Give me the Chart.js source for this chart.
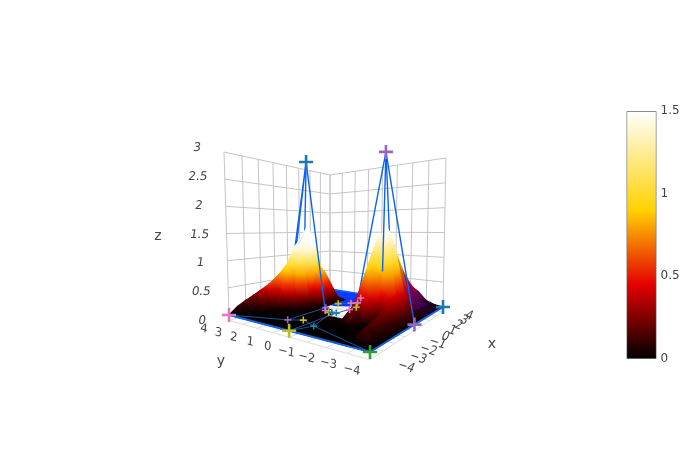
<!DOCTYPE html>
<html><head><meta charset="utf-8">
<script src="https://cdn.jsdelivr.net/npm/chart.js@4"></script>
<style>html,body{margin:0;padding:0;background:#fff}
#m{position:absolute;left:0;top:0}#c{position:absolute;left:620px;top:100px}</style></head>
<body><canvas id="m" width="700" height="450"></canvas><canvas id="c" width="80" height="270"></canvas>
<script>
const xTicks=[-4,-3,-2,-1,0,1,2,3,4];
const yTicks=[4,3,2,1,0,-1,-2,-3,-4];
const zTicks=[0,0.5,1,1.5,2,2.5,3];
const colorbarTicks=[0,0.5,1,1.5];
const xGrid=[-4,-3.5,-3,-2.5,-2,-1.5,-1,-0.5,0,0.5,1,1.5,2,2.5,3,3.5,4];
const yGrid=[-4,-3.5,-3,-2.5,-2,-1.5,-1,-0.5,0,0.5,1,1.5,2,2.5,3,3.5,4];
const _=null;
const zRows=[
[0,0,0,0,0,0,0,.01,.02,.02,.02,.02,.02,.02,.01,.01,0],
[0,.03,.06,.08,.1,.12,.14,.16,.18,.15,.12,.1,.1,.08,.06,.04,.02],
[0,.02,.1,.14,.18,.22,.28,.4,.45,.42,.4,.36,.3,.24,.18,.12,.08],
[0,0,0,0,.01,.02,.04,.55,1.6,1.45,1.15,.92,.72,.56,.42,.32,.24],
[0,0,0,.01,.02,.04,.5,1.15,1.4,1.28,1.05,.85,.67,.53,.4,.3,.22],
[0,0,.01,.01,.02,.25,.4,.68,.8,.78,.72,.62,.52,.42,.33,.26,.2],
[0,0,.01,.01,.02,.03,.06,.2,.3,.4,.42,.4,.35,.3,.25,.2,.15],
[0,0,.01,.01,.02,.03,_,_,_,_,_,_,_,_,_,_,_],
[0,0,.01,.01,.01,.02,.02,_,_,_,_,_,_,_,_,_,_],
[0,0,.01,.01,.02,.02,.03,.03,_,_,_,_,_,_,_,_,_],
[0,0,.01,.01,.02,.02,.03,.04,.05,.06,.06,.06,_,_,_,_,_],
[0,0,.01,.01,.02,.02,.03,.04,.05,.07,.08,.1,_,_,_,_,_],
[0,0,.01,.01,.02,.03,.05,.15,.5,.8,.6,.35,_,_,_,_,_],
[0,0,.01,.02,.03,.04,.35,1.3,1.62,1.4,.78,.4,_,_,_,_,_],
[0,0,.01,.02,.04,.35,.85,1.2,1.35,1.15,.68,.39,_,_,_,_,_],
[0,0,.03,.25,.42,.55,.68,.85,.95,.8,.55,.3,_,_,_,_,_],
[0,.12,.2,.27,.34,.42,.5,.58,.62,.5,.35,.2,_,_,_,_,_]];
const traceX=[-4,-4,-4,0,4,0,-.3,3,1.04,1.58,1.86,-.08,-.55,-.73,-.61,.38,.98,-2.9,-2.5,-2.9,-.6,0,4,4,3.2,4];
const traceY=[4,0,-4,-4,-4,2.55,-2.56,.86,1.13,.61,.35,1.14,.8,.43,.32,-.1,-.14,1.17,.56,-.42,.04,4,0,4,-.53,-.8];
const traceZ=[0,0,0,0,0,3,2.9,0,0,0,0,0,0,0,0,0,0,0,0,0,0,0,0,0,.64,0];
const traceColors=["#e377c2","#bcbd22","#2ca02c","#9467bd","#1f77b4","#1f77b4","#9467bd","#e377c2","#bcbd22","#e377c2","#e377c2","#9467bd","#e377c2","#bcbd22","#1f77b4","#e377c2","#bcbd22","#9467bd","#bcbd22","#1f84a8","#1f84a8","#1f77b4","#1f77b4","#1f77b4","#1f77b4","#1f77b4"];
const traceSizes=[7,7,7,7,7,7,7,3.5,3.5,3.5,3.5,3.5,3.5,3.5,3.5,3.5,3.5,3.5,3.5,3.5,3.5,0,0,0,0,0];
const edgeLinks=[0,1,2,3,4];
const backLinks=[5,21,_,5,17,_,5,18,_,6,16,_,6,25,_,4,23,_,23,21];
const frontLinks=[5,12,_,6,3,_,6,24];
const floorLinks=[0,17,18,19,2,_,1,19,14,_,1,20,15,16,_,12,13,14,_,17,11,12,_,8,9,10,7,_,20,13];
const bluePatchX=[4,4,1.3,0.5,0.5];
const bluePatchY=[4,-.5,-.3,.9,4];

const fF=[370,352],fR=[443,307],fB=[330,289],fL=[229,315];
const tF=[372,118],tR=[446,158],tB=[330,175],tL=[224,152];
function quad(p0,p1,p2,p3){const [x0,y0]=p0,[x1,y1]=p1,[x2,y2]=p2,[x3,y3]=p3;
 const dx1=x1-x2,dx2=x3-x2,dx3=x0-x1+x2-x3,dy1=y1-y2,dy2=y3-y2,dy3=y0-y1+y2-y3,den=dx1*dy2-dx2*dy1;
 const g=(dx3*dy2-dx2*dy3)/den,h=(dx1*dy3-dx3*dy1)/den;
 const a=x1-x0+g*x1,b=x3-x0+h*x3,d=y1-y0+g*y1,e=y3-y0+h*y3;
 return (u,v)=>{const w=g*u+h*v+1;return [(a*u+b*v+x0)/w,(d*u+e*v+y0)/w];};}
const floorMap=quad(fF,fR,fB,fL),topMap=quad(tF,tR,tB,tL);
function project(x,y,z){const u=(x+4)/8,v=(y+4)/8,t=z/3,a=floorMap(u,v),b=topMap(u,v);
 return {x:a[0]+(b[0]-a[0])*t,y:a[1]+(b[1]-a[1])*t};}
const gap={x:NaN,y:NaN};
const linkPts=l=>l.map(i=>i===null?gap:project(traceX[i],traceY[i],traceZ[i]));

const ZF=-0.1;
const gridPts=[],floorPts=[];
xTicks.forEach(x=>{gridPts.push(project(x,4,ZF),project(x,4,3),gap);floorPts.push(project(x,-4,ZF),project(x,4,ZF),gap);});
yTicks.forEach(y=>{gridPts.push(project(4,y,ZF),project(4,y,3),gap);floorPts.push(project(-4,y,ZF),project(4,y,ZF),gap);});
zTicks.forEach(z=>{if(z>0)gridPts.push(project(-4,4,z),project(4,4,z),project(4,-4,z),gap);});

const surfPts=[];
yGrid.forEach((y,j)=>xGrid.forEach((x,i)=>{const z=zRows[j][i];surfPts.push(z===null?gap:project(x,y,z));}));

const hot=[[0,[0,0,0]],[.3,[230,0,0]],[.6,[255,210,0]],[1,[255,255,255]]];
function hotAt(z){const f=Math.max(0,Math.min(1,z/1.5));for(let i=1;i<hot.length;i++){if(f<=hot[i][0]){const a=hot[i-1],b=hot[i],t=(f-a[0])/(b[0]-a[0]);
 return 'rgb('+a[1].map((c,k)=>Math.round(c+(b[1][k]-c)*t)).join(',')+')';}}return 'rgb(255,255,255)';}

const surfacePlugin={id:'surf',afterDatasetDraw(chart,args){
 const ds=chart.data.datasets[args.index],ctx=chart.ctx,el=args.meta.data;
 if(ds.role==='patch'){ctx.save();ctx.beginPath();el.forEach((p,i)=>i?ctx.lineTo(p.x,p.y):ctx.moveTo(p.x,p.y));ctx.closePath();ctx.fillStyle='#0a3cff';ctx.fill();ctx.restore();}
 if(ds.role!=='surface')return;
 const n=xGrid.length;ctx.save();
 for(let j=n-2;j>=0;j--)for(let i=n-2;i>=0;i--){
  const id=[j*n+i,j*n+i+1,(j+1)*n+i+1,(j+1)*n+i];
  const zs=[zRows[j][i],zRows[j][i+1],zRows[j+1][i+1],zRows[j+1][i]];
  if(zs.some(v=>v===null))continue;
  const ps=id.map(k=>el[k]);
  const ax=(xGrid[i]+xGrid[i+1])/2,ay=(yGrid[j]+yGrid[j+1])/2,az=(zs[0]+zs[1]+zs[2]+zs[3])/4,gain=ay>0?1.22:1;
  let lo=0,hi=0;zs.forEach((v,k)=>{if(v<zs[lo])lo=k;if(v>zs[hi])hi=k;});
  const g=ctx.createLinearGradient(ps[lo].x,ps[lo].y,ps[hi].x,ps[hi].y+.01);
  for(let s=0;s<=6;s++)g.addColorStop(s/6,hotAt(gain*(zs[lo]+(zs[hi]-zs[lo])*s/6)));
  ctx.beginPath();ps.forEach((p,k)=>k?ctx.lineTo(p.x,p.y):ctx.moveTo(p.x,p.y));ctx.closePath();
  ctx.fillStyle=g;ctx.strokeStyle=g;ctx.lineWidth=1.1;ctx.fill();ctx.stroke();
  let ov=null;
  if(ay<-2&&ax>.8){const k=Math.min(1,az/.3+.25);ov='rgba('+Math.round(75*k)+',0,'+Math.round(135*k)+','+Math.min(.95,(ax-.8)*.8).toFixed(2)+')';}
  else if(ay>0&&az>1.1){ov='rgba(170,205,255,.55)';}
  else if(ay>0&&ax<-1.5){ov='rgba(0,0,0,'+Math.min(.5,(-ax-1.5)*.25).toFixed(2)+')';}
  if(ov){ctx.fillStyle=ov;ctx.fill();}
 }
 ctx.restore();}};

function label(ctx,t,p,m,font){ctx.save();ctx.font=font||'12px "DejaVu Sans"';ctx.fillStyle='#444';ctx.textAlign='center';ctx.textBaseline='middle';
 ctx.translate(p.x,p.y);ctx.transform(m[0],m[1],m[2],m[3],0,0);ctx.fillText(t,0,0);ctx.restore();}
const minus=v=>String(v).replace('-','\u2212');
const labelPlugin={id:'labels',afterDraw(chart){const ctx=chart.ctx;
 zTicks.forEach(z=>{const p=project(-4,4,z);label(ctx,String(z),{x:p.x-27,y:p.y+6-10*z/3},[1,0,-.15,1]);});
 yTicks.forEach(y=>{const p=project(-4,y,0);const s=(y+4)/8;label(ctx,minus(y),{x:p.x-18-7*s,y:p.y+18-4*s},[.95,.22,-.1,1]);});
 xTicks.forEach(x=>{const p=project(x,-4,0);const s=(x+4)/8;label(ctx,minus(x),{x:p.x+36-10*s,y:p.y+15-6*s},[.9,.28,-.45,1]);});
 label(ctx,'x',{x:492,y:344},[1,0,0,1],'14px "DejaVu Sans"');
 label(ctx,'y',{x:221,y:361},[1,0,0,1],'14px "DejaVu Sans"');
 label(ctx,'z',{x:158,y:236},[1,0,0,1],'14px "DejaVu Sans"');
}};

new Chart(document.getElementById('m'),{type:'scatter',plugins:[surfacePlugin,labelPlugin],
 data:{datasets:[
  {label:'walls',order:8,data:gridPts,showLine:true,spanGaps:false,pointRadius:0,borderColor:'#c4c4c4',borderWidth:1},
  {label:'floor',order:7,data:floorPts,showLine:true,spanGaps:false,pointRadius:0,borderColor:'#dcdcdc',borderWidth:1},
  {label:'patch',role:'patch',order:6,data:bluePatchX.map((x,i)=>project(x,bluePatchY[i],0)),pointRadius:0},
  {label:'back',order:5,data:linkPts(backLinks),showLine:true,spanGaps:false,pointRadius:0,borderColor:'#0a64f0',borderWidth:1.4},
  {label:'surface',role:'surface',order:4,data:surfPts,pointRadius:0},
  {label:'floorLines',order:3,data:linkPts(floorLinks),showLine:true,spanGaps:false,pointRadius:0,borderColor:'#1d5fa8',borderWidth:.9},
  {label:'front',order:2,data:linkPts(frontLinks),showLine:true,spanGaps:false,pointRadius:0,borderColor:'#0a64f0',borderWidth:1.4},
  {label:'edge',order:2,data:linkPts(edgeLinks),showLine:true,pointRadius:0,borderColor:'#1464e6',borderWidth:2},
  {label:'markers',order:1,data:traceX.map((x,i)=>project(x,traceY[i],traceZ[i])),pointStyle:'cross',pointRadius:traceSizes,pointBorderColor:traceColors,pointBorderWidth:traceSizes.map(s=>s>5?2.6:1.6),pointBackgroundColor:traceColors}
 ]},
 options:{responsive:false,animation:false,events:[],layout:{padding:0,autoPadding:false},
  plugins:{legend:{display:false},tooltip:{enabled:false}},
  scales:{x:{type:'linear',min:0,max:700,display:false},y:{type:'linear',min:0,max:450,reverse:true,display:false}}}});

new Chart(document.getElementById('c'),{type:'bar',
 data:{labels:['z'],datasets:[{data:[[colorbarTicks[0],colorbarTicks[3]]],barPercentage:1,categoryPercentage:1,borderColor:'#444',borderWidth:1,borderSkipped:false,
  backgroundColor(c){const a=c.chart.chartArea;if(!a)return '#000';const g=c.chart.ctx.createLinearGradient(0,a.bottom,0,a.top);hot.forEach(h=>g.addColorStop(h[0],'rgb('+h[1].join(',')+')'));return g;}}]},
 options:{responsive:false,animation:false,events:[],layout:{padding:{left:6.5,top:10,bottom:10,right:0},autoPadding:false},
  plugins:{legend:{display:false},tooltip:{enabled:false}},
  scales:{x:{display:false},
   y:{position:'right',min:0,max:1.5,grid:{display:false,tickLength:0,drawTicks:false},border:{display:false},afterBuildTicks(ax){ax.ticks=colorbarTicks.map(v=>({value:v}));},afterFit(ax){ax.width=43.5;},
    ticks:{color:'#444',padding:4,autoSkip:false,font:{family:'DejaVu Sans',size:12},callback:v=>String(v)}}}}});
</script></body></html>
